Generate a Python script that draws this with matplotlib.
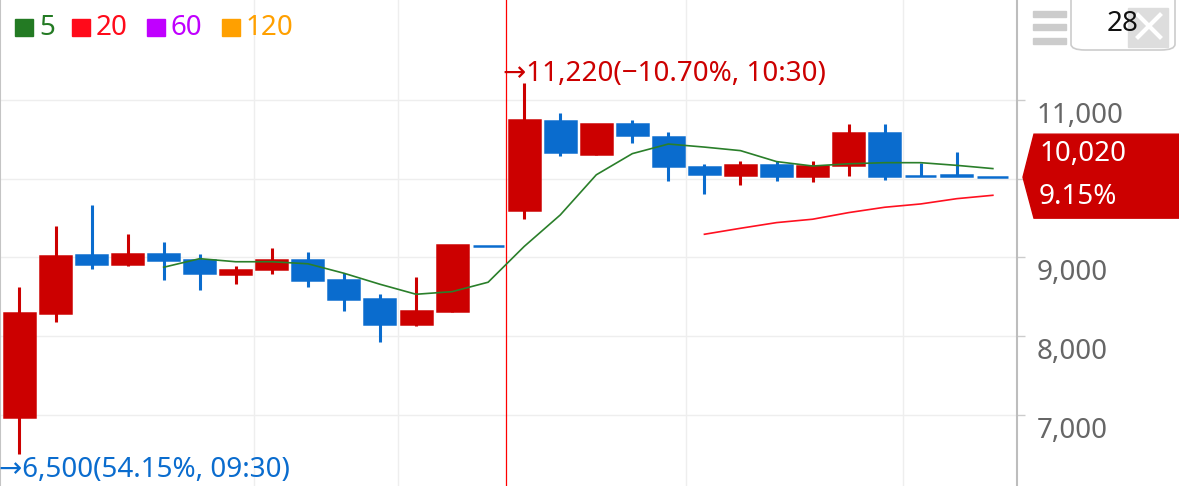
import numpy as np
import matplotlib.pyplot as plt
from matplotlib.patches import Polygon, Rectangle, FancyBboxPatch

plt.rcParams['font.family'] = ['Noto Sans', 'DejaVu Sans']

# candles (price per bar)
opens = [6970, 8300, 9030, 8920, 9040, 8970, 8790, 8850, 8970, 8710, 8470, 8150, 8320, 9150,
         9600, 10730, 10320, 10690, 10530, 10150, 10050, 10170, 10030, 10175, 10580, 10040, 10050, 10020]
highs = [8620, 9400, 9670, 9300, 9200, 9040, 8890, 9120, 9070, 8800, 8540, 8750, 9160, 9150,
         11220, 10830, 10700, 10750, 10600, 10190, 10220, 10230, 10230, 10700, 10690, 10200, 10340, 10020]
lows = [6500, 8180, 8850, 8890, 8720, 8590, 8660, 8790, 8630, 8320, 7930, 8135, 8310, 9140,
        9490, 10290, 10300, 10450, 9970, 9810, 9925, 9970, 9955, 10040, 9980, 10030, 10040, 10020]
closes = [8300, 9020, 8920, 9040, 8970, 8800, 8840, 8970, 8720, 8470, 8150, 8320, 9160, 9140,
          10740, 10340, 10690, 10550, 10160, 10060, 10175, 10030, 10165, 10580, 10035, 10030, 10040, 10020]

# moving averages
ma5 = [8876, 8985, 8946, 8946, 8920, 8800, 8660, 8533, 8566, 8686, 9140, 9540,
       10050, 10319, 10441, 10402, 10357, 10218, 10162, 10190, 10204, 10204, 10170, 10129]
ma20 = [9295, 9371, 9443, 9486, 9570, 9638, 9680, 9747, 9790]

yticks = [7000, 8000, 9000, 10000, 11000]
ylabels = [7000, 8000, 9000, 11000]   # 10,000 sits under the price flag
legend_items = [("5", "#237a23"), ("20", "#ff0a1a"), ("60", "#c000ff"), ("120", "#ffa000")]
high_text = "11,220(\u221210.70%, 10:30)"
low_text = "6,500(54.15%, 09:30)"
last_text = ["10,020", "9.15%"]
count_text = "28"

RED = "#cc0000"
BLUE = "#0a6cce"
W, H = 1179, 486

fig = plt.figure(figsize=(W / 100, H / 100), dpi=100)
ax = fig.add_axes([0, 0, 1017 / W, 1])
ax.set_xlim(-0.54, 27.67)
ax.set_ylim(6098, 12270)

o = np.array(opens)
c = np.array(closes)
x = np.arange(len(o))
col = np.where(c > o, RED, BLUE)

ax.vlines(x, lows, highs, colors=col, linewidth=2.2, zorder=3)
ax.bar(x, c - o, bottom=o, width=0.86, color=col, edgecolor=col, linewidth=1.8, zorder=4)

ax.plot(x[len(x) - len(ma5):], ma5, color="#2a7f2a", lw=1.2, zorder=5)
ax.plot(x[len(x) - len(ma20):], ma20, color="#ff1020", lw=1.2, zorder=5)

# grid / separators
ax.set_yticks(yticks)
ax.set_xticks([6.5, 10.5, 18.5, 24.5])
ax.grid(True, color="#eeeeee", lw=1)
ax.axvline(13.5, color="#ff0000", lw=0.9, zorder=2)
ax.yaxis.tick_right()
ax.tick_params(axis='y', length=6, width=1, color="#cccccc", labelright=False)
ax.tick_params(axis='x', length=0, labelbottom=False)
ax.spines[['top', 'bottom']].set_visible(False)
ax.spines['left'].set_color("#c4c4c4")
ax.spines['left'].set_linewidth(1.5)
ax.spines['right'].set_color("#bdbdbd")
ax.spines['right'].set_linewidth(1.5)

for v in ylabels:
    ax.annotate(f"{v:,}", xy=(1, v), xycoords=('axes fraction', 'data'), xytext=(20, -23),
                textcoords='offset pixels', ha='left', va='baseline', fontsize=20,
                color="#666666", annotation_clip=False)

# high / low markers
ih = int(np.argmax(highs))
il = int(np.argmin(lows))
ax.annotate("\u2192" + high_text, xy=(ih, highs[ih]), xytext=(-21, 2), textcoords='offset pixels',
            ha='left', va='baseline', fontsize=20, color=RED, annotation_clip=False)
ax.annotate("\u2192" + low_text, xy=(il, lows[il]), xytext=(-20, -23), textcoords='offset pixels',
            ha='left', va='baseline', fontsize=20, color=BLUE, annotation_clip=False)

# legend top left
def fx(px):
    return px / W

def fy(py):
    return 1 - py / H

lx = [15, 72, 147, 222]
for (lab, cc), xx in zip(legend_items, lx):
    fig.patches.append(Rectangle((fx(xx), fy(36.5)), 18 / W, 17.5 / H, color=cc,
                                 transform=fig.transFigure, figure=fig))
    fig.text(fx(xx + 24), fy(35.3), lab, color=cc, fontsize=20, va='baseline')

# current price flag
tip = ax.transData.transform((0, closes[-1]))[1]
tip_py = H - tip
flag = [(1023, tip_py), (1034, tip_py - 43), (W, tip_py - 43), (W, tip_py + 41), (1034, tip_py + 41)]
fig.patches.append(Polygon([(fx(a), fy(b)) for a, b in flag], closed=True, color=RED,
                           transform=fig.transFigure, figure=fig, zorder=2))
fig.text(fx(1040), fy(tip_py - 15.7), last_text[0], color="white", fontsize=20, va='baseline', zorder=4)
fig.text(fx(1039), fy(tip_py + 26.7), last_text[1], color="white", fontsize=20, va='baseline', zorder=4)

# top right widget
for yy in [11, 24, 38]:
    fig.patches.append(Rectangle((fx(1033), fy(yy + 6)), 33 / W, 6 / H, color="#cccccc",
                                 transform=fig.transFigure, figure=fig))
fig.patches.append(FancyBboxPatch((fx(1071), fy(50)), 104 / W, 60 / H,
                                  boxstyle="round,pad=0,rounding_size=0.012", fc="white",
                                  ec="#cccccc", lw=1.2, transform=fig.transFigure, figure=fig))
fig.patches.append(Rectangle((fx(1128), fy(47)), 40 / W, 39 / H, color="#dddddd",
                             transform=fig.transFigure, figure=fig, zorder=2))
fig.lines.append(plt.Line2D([fx(1138), fx(1160)], [fy(15), fy(37)], color="white", lw=3,
                            transform=fig.transFigure, figure=fig, zorder=2.5))
fig.lines.append(plt.Line2D([fx(1138), fx(1160)], [fy(37), fy(15)], color="white", lw=3,
                            transform=fig.transFigure, figure=fig, zorder=2.5))
fig.text(fx(1123), fy(24), count_text, color="#111111", fontsize=20, ha='center', va='center', zorder=4)

fig.savefig("out.png", dpi=100)
